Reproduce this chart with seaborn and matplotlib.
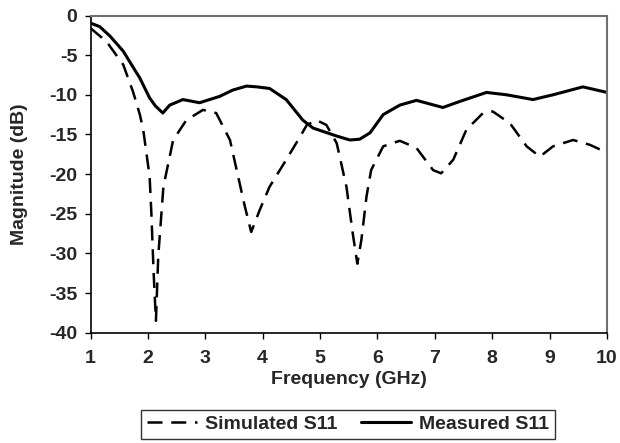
import matplotlib
matplotlib.use("Agg")
import matplotlib.pyplot as plt
import pandas as pd
import seaborn as sns

# measured S11 (solid)
meas_f = [1.0, 1.16, 1.34, 1.57, 1.86, 2.03, 2.13, 2.26, 2.38, 2.61, 2.9, 3.25,
          3.48, 3.72, 3.9, 4.12, 4.41, 4.70, 4.88, 5.29, 5.52, 5.69, 5.87, 6.10,
          6.39, 6.68, 7.14, 7.43, 7.90, 8.25, 8.71, 9.06, 9.58, 10.0]
meas_db = [-0.96, -1.4, -2.6, -4.5, -7.9, -10.4, -11.4, -12.3, -11.3, -10.6, -11.0,
           -10.2, -9.4, -8.9, -9.0, -9.2, -10.6, -13.2, -14.2, -15.2, -15.7, -15.6,
           -14.8, -12.5, -11.3, -10.7, -11.6, -10.85, -9.7, -10.0, -10.6, -10.0,
           -9.0, -9.7]

# simulated S11 (dashed)
sim_f = [1.0, 1.28, 1.57, 1.74, 1.86, 1.92, 2.03, 2.06, 2.10, 2.14, 2.18, 2.27,
         2.44, 2.67, 2.96, 3.19, 3.43, 3.60, 3.69, 3.80, 3.95, 4.12, 4.41, 4.65,
         4.77, 4.94, 5.11, 5.29, 5.46, 5.57, 5.65, 5.72, 5.81, 5.89, 6.10, 6.39,
         6.68, 6.97, 7.11, 7.32, 7.55, 7.84, 8.01, 8.31, 8.60, 8.83, 9.06, 9.41,
         9.70, 10.0]
sim_db = [-1.6, -3.3, -6.2, -9.6, -12.5, -14.5, -20.3, -24.9, -32.5, -38.5, -30.4,
          -21.6, -15.7, -13.2, -11.9, -12.3, -15.7, -21.2, -24.1, -27.3, -24.5,
          -21.6, -18.2, -15.3, -13.8, -13.2, -13.8, -16.1, -21.6, -27.5, -31.3,
          -28.3, -22.8, -19.5, -16.5, -15.8, -16.7, -19.5, -19.9, -18.2, -14.4,
          -12.3, -12.1, -13.6, -16.5, -17.8, -16.5, -15.7, -16.3, -17.3]

labels = ["Simulated S11", "Measured S11"]

df = pd.concat([
    pd.DataFrame({"f": sim_f, "db": sim_db, "series": labels[0]}),
    pd.DataFrame({"f": meas_f, "db": meas_db, "series": labels[1]}),
])

sns.set_theme(style="ticks")
plt.rcParams['font.family'] = ['Liberation Sans', 'DejaVu Sans']
plt.rcParams['font.weight'] = 'bold'
plt.rcParams['axes.labelweight'] = 'bold'
plt.rcParams['axes.unicode_minus'] = False

fs = 14

fig = plt.figure(figsize=(6.2, 4.43), dpi=100)
ax = fig.add_axes([0.146, 0.249, 0.833, 0.716])

sns.lineplot(data=df, x="f", y="db", hue="series", style="series",
             palette={labels[0]: "black", labels[1]: "black"},
             dashes={labels[0]: (6, 3.5), labels[1]: ""},
             size="series", sizes={labels[0]: 1.8, labels[1]: 2.2},
             estimator=None, sort=False, ax=ax, legend=False)

ax.set_xlim(1, 10)
ax.set_ylim(-40, 0)
ax.set_xticks(range(1, 11))
ax.set_yticks(range(-40, 1, 5))
ax.tick_params(axis="both", labelsize=fs, length=4.5, width=1, color="black",
               direction="out")
ax.tick_params(axis="x", pad=8)
ax.tick_params(axis="y", pad=5)
for lab in ax.get_xticklabels() + ax.get_yticklabels():
    lab.set_fontweight("bold")
ax.set_xlabel("Frequency (GHz)", fontsize=fs, fontweight="bold", labelpad=3)
ax.set_ylabel("Magnitude (dB)", fontsize=fs, fontweight="bold", labelpad=15)

for side in ["left", "bottom"]:
    ax.spines[side].set_color("black")
    ax.spines[side].set_linewidth(1.2)
for side in ["top", "right"]:
    ax.spines[side].set_visible(True)
    ax.spines[side].set_color("#707070")
    ax.spines[side].set_linewidth(1.5)

handles = ax.get_lines()[:2]
leg = fig.legend(handles, labels, loc="upper center", ncol=2,
                 bbox_to_anchor=(0.561, 0.075), borderaxespad=0,
                 fontsize=fs, frameon=True, fancybox=False, edgecolor="black",
                 handlelength=2.6, columnspacing=1.2, handletextpad=0.4,
                 borderpad=0.3)
leg.get_frame().set_linewidth(1)
for t in leg.get_texts():
    t.set_fontweight("bold")

fig.savefig("out.png", dpi=100)
